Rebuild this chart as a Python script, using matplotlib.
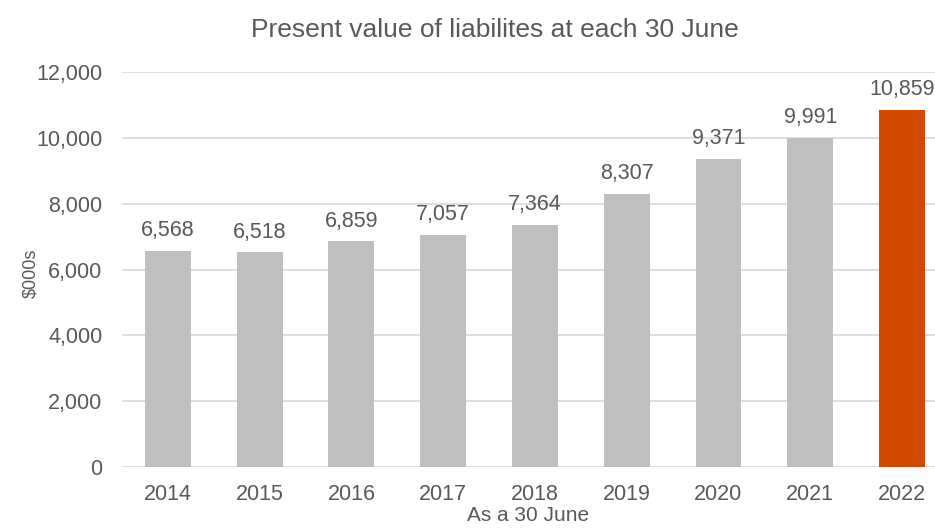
import matplotlib.pyplot as plt
import numpy as np

plt.rcParams['font.family'] = ['Liberation Sans', 'DejaVu Sans']

years = ['2014', '2015', '2016', '2017', '2018', '2019', '2020', '2021', '2022']
liabilities = [6568, 6518, 6859, 7057, 7364, 8307, 9371, 9991, 10859]

grey = '#bfbfbf'
orange = '#d04a02'
text_col = '#595959'

fig = plt.figure(figsize=(9.35, 5.28), dpi=100)
ax = fig.add_axes([0.1305, 0.1155, 0.8695, 0.7481])

x = np.arange(len(years))
colours = [grey] * (len(years) - 1) + [orange]
bars = ax.bar(x, liabilities, width=0.5, color=colours, zorder=2)

for xi, v in zip(x, liabilities):
    ax.annotate(f'{v:,}', (xi, v), xytext=(0, 7), textcoords='offset points',
                ha='center', va='bottom', fontsize=15.5, color=text_col)

ax.set_ylim(0, 12000)
ax.set_xlim(-0.5, 8.36)
ax.set_yticks(range(0, 12001, 2000))
ax.set_yticklabels([f'{t:,}' for t in range(0, 12001, 2000)])
ax.set_xticks(x)
ax.set_xticklabels(years)
ax.grid(axis='y', color='#d9d9d9', linewidth=1.2, zorder=0)
ax.tick_params(length=0, labelsize=15.5, labelcolor=text_col)
ax.tick_params(axis='x', pad=12)
ax.tick_params(axis='y', pad=14)
for s in ax.spines.values():
    s.set_visible(False)

ax.set_ylabel('$000s', fontsize=13, color=text_col)
ax.yaxis.set_label_coords(-0.102, 0.49)
ax.set_xlabel('As a 30 June', fontsize=15, color=text_col, labelpad=1)
fig.text(0.529, 0.943, 'Present value of liabilites at each 30 June',
         ha='center', va='center', fontsize=19, color=text_col)

fig.savefig('out.png', dpi=100)
